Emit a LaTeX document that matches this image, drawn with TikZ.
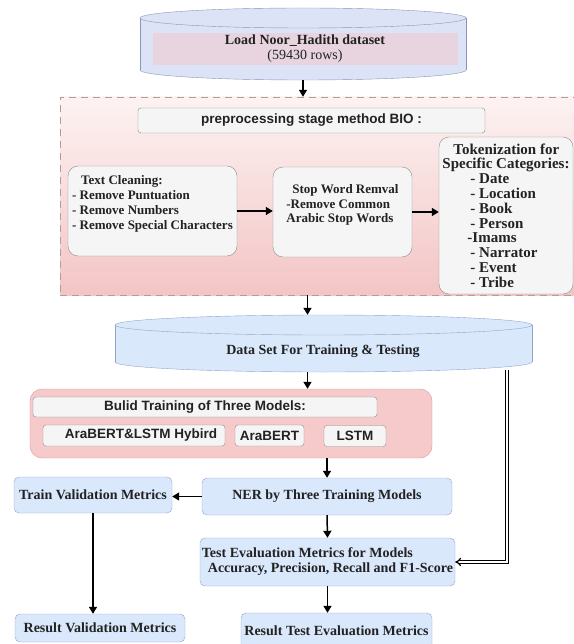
\documentclass[tikz,border=0pt]{standalone}
\usepackage{fontspec}
\setmainfont{Liberation Serif}
\setsansfont{Liberation Sans}
\usetikzlibrary{arrows.meta}

\definecolor{inkgray}{HTML}{222222}
\definecolor{cylfill}{HTML}{DCE3F7}
\definecolor{cylline}{HTML}{8A96B4}
\definecolor{loadfill}{HTML}{E8D4DE}
\definecolor{prepTop}{HTML}{FDF2F2}
\definecolor{prepBot}{HTML}{F3C5C5}
\definecolor{prepline}{HTML}{B39C9C}
\definecolor{boxfill}{HTML}{F5F5F5}
\definecolor{boxline}{HTML}{8C8C8C}
\definecolor{datafill}{HTML}{DAE8FC}
\definecolor{dataline}{HTML}{8FA6C9}
\definecolor{trainfill}{HTML}{F6CACA}
\definecolor{trainline}{HTML}{D49A9A}

\begin{document}
\begin{tikzpicture}[x=1pt, y=-1pt,
    every node/.style={text=inkgray, font=\fontsize{14}{15}\selectfont\bfseries},
    arr/.style={-{Triangle[length=7pt,width=8pt]}, line width=1.5pt},
    dbl/.style={double=white, double distance=1.6pt, line width=1.2pt, -{Implies}},
    greybox/.style={draw=boxline, fill=boxfill, rounded corners=10pt, align=left, inner sep=1pt,
        font=\fontsize{13}{14.8}\selectfont\bfseries},
    sansbox/.style={draw=boxline, fill=boxfill, rounded corners=3pt, inner sep=0pt,
        font=\sffamily\fontsize{13.5}{15}\selectfont\bfseries},
    bluebox/.style={draw=dataline, fill=datafill, rounded corners=5pt, inner sep=1pt}
]
\useasboundingbox (0,0) rectangle (573,644);

% Load dataset
\filldraw[fill=cylfill, draw=cylline] (303,70) ellipse [x radius=163, y radius=10];
\fill[cylfill] (140,18) rectangle (466,70);
\draw[cylline] (140,18) -- (140,70) (466,18) -- (466,70);
\filldraw[fill=cylfill, draw=cylline] (303,18) ellipse [x radius=163, y radius=10];
\node[minimum width=326pt, minimum height=72pt, inner sep=0pt] (load) at (303,44) {};
\node[fill=loadfill, minimum width=305pt, minimum height=32pt, inner sep=0pt, align=center] (loadtxt) at (305,49)
    {Load Noor\_Hadith dataset\\{\mdseries (59430 rows)}};

% Preprocessing stage
\node[draw=prepline, dash pattern=on 7pt off 5pt, top color=prepTop, bottom color=prepBot,
    minimum width=515pt, minimum height=198pt, inner sep=0pt] (prep) at (317.5,196) {};
\node[sansbox, minimum width=347pt, minimum height=25pt] (bio) at (311.5,120.5) {preprocessing stage method BIO :};
\node[greybox, minimum width=169pt, minimum height=90pt, text depth=17pt] (clean) at (152.5,211)
    {\hspace*{9pt}Text Cleaning:\\- Remove Puntuation\\- Remove Numbers\\- Remove Special Characters};
\node[greybox, minimum width=139pt, minimum height=90pt, text depth=17pt] (stop) at (342.5,212)
    {\hspace*{6pt}Stop Word Remval\\-Remove Common\\Arabic Stop Words};
\node[greybox, minimum width=134pt, minimum height=157pt, font=\fontsize{15}{14.8}\selectfont\bfseries] (token) at (506,215.5)
    {\hspace*{11pt}Tokenization for\\Specific Categories:\\\hspace*{28pt}- Date\\\hspace*{28pt}- Location\\
     \hspace*{28pt}- Book\\\hspace*{28pt}- Person\\\hspace*{25pt}-Imams\\\hspace*{28pt}- Narrator\\
     \hspace*{28pt}- Event\\\hspace*{28pt}- Tribe};
\draw[arr] (clean.east) -- (clean.east -| stop.west);
\draw[arr] (stop.east) -- (stop.east -| token.west);

% Data set
\filldraw[fill=datafill, draw=dataline] (323.5,362) ellipse [x radius=208.5, y radius=10];
\fill[datafill] (115,325) rectangle (532,362);
\draw[dataline] (115,325) -- (115,362) (532,325) -- (532,362);
\filldraw[fill=datafill, draw=dataline] (323.5,325) ellipse [x radius=208.5, y radius=10];
\node[minimum width=417pt, minimum height=57pt, inner sep=0pt] (data) at (323.5,343.5) {};
\node (datatxt) at (323,351) {Data Set For Training \& Testing};

% Training of models
\node[draw=trainline, fill=trainfill, rounded corners=12pt, minimum width=402pt, minimum height=69pt] (train) at (231,423.5) {};
\node[sansbox, minimum width=344pt, minimum height=20pt] (buildhd) at (205,407) {Bulid Training of Three Models:};
\node[sansbox, minimum width=182pt, minimum height=21pt] (hybrid) at (134,435.5) {\hspace*{14pt}AraBERT\&LSTM Hybird};
\node[sansbox, minimum width=69pt, minimum height=21pt] (arabert) at (269.5,435.5) {AraBERT};
\node[sansbox, minimum width=62pt, minimum height=21pt] (lstm) at (355,436) {LSTM};

% Results
\node[bluebox, minimum width=250pt, minimum height=37pt] (ner) at (327,496.5) {NER by Three Training Models};
\node[bluebox, minimum width=158pt, minimum height=36pt] (trainval) at (93,495) {Train Validation Metrics};
\node[bluebox, minimum width=255pt, minimum height=48pt, align=left] (test) at (327.5,562)
    {Test Evaluation Metrics for Models\\\hspace*{6pt}Accuracy, Precision, Recall and F1-Score};
\node[bluebox, minimum width=170pt, minimum height=28pt] (resval) at (100,628) {Result Validation Metrics};
\node[bluebox, minimum width=191pt, minimum height=36pt] (restest) at (336.5,631) {Result Test Evaluation Metrics};

% Arrows
\draw[arr] (load.south) -- (load.south |- prep.north);
\draw[arr] ([xshift=-16pt]data.north |- prep.south) -- ([xshift=-16pt]data.north);
\draw[arr] ([xshift=-16pt]data.south) -- ([xshift=-16pt]data.south |- train.north);
\draw[arr] (ner.north |- train.south) -- (ner.north);
\draw[arr] (ner.west) -- (ner.west -| trainval.east);
\draw[arr] (trainval.south) -- (trainval.south |- resval.north);
\draw[arr] (ner.south) -- (test.north);
\draw[arr] (test.south) -- (test.south |- restest.north);
\coordinate (split) at (507,370);
\draw[dbl] (split) |- (test.east);
\end{tikzpicture}
\end{document}
